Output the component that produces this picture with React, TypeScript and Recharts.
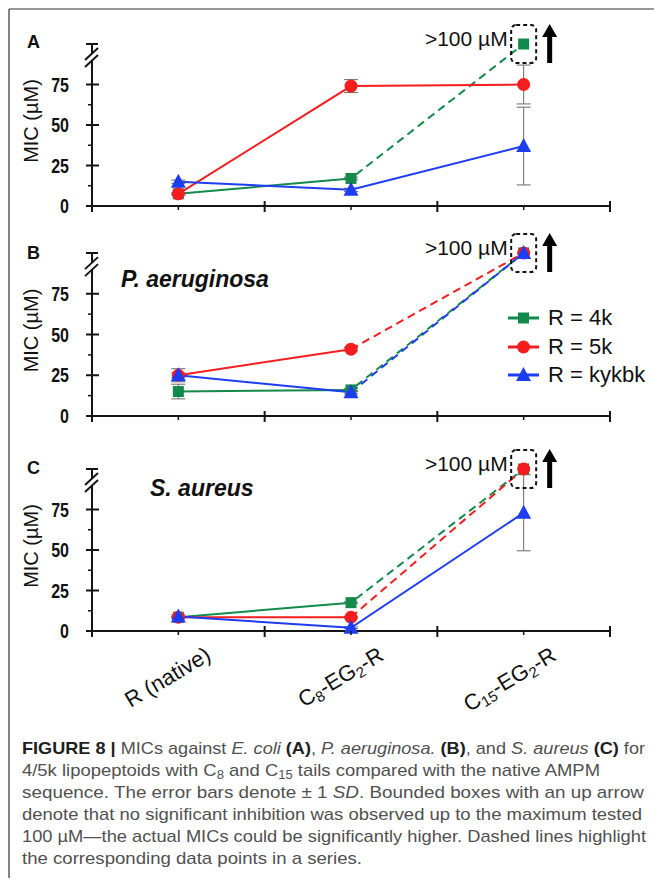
import React from "react";
import { LineChart, Line, XAxis, YAxis, ErrorBar, ReferenceDot, Legend } from "recharts";

// Fonts / colours picked to read like the Excel-style original.
const FONT = "'Liberation Sans', Arial, Helvetica, sans-serif";
const GREEN = "#13894b";
const RED = "#f51d1d";
const BLUE = "#1c3df2";
const AXIS = "#141414";
const ERR = "#6a6a6a";

const categories = ["R (native)", "C_8-EG_2-R", "C_15-EG_2-R"];
const xTicks = [0, 0.5, 1, 1.5, 2, 2.5, 3];
const yTicks = [0, 12.5, 25, 37.5, 50, 62.5, 75, 89.5, 100];
const MAX_TESTED = 100; // values at 100 mean "> 100 µM"

// (A) E. coli
const ecoli4k = [7.5, 17, 100];
const ecoli5k = [7.5, 74, 75];
const ecoliKykbk = [15, 10, 37];
const ecoli4kSd = [0.6, 0.8, 0];
const ecoli5kSd = [0.6, 4, 12];
const ecoliKykbkSd = [1, 1, 24];

// (B) P. aeruginosa
const paer4k = [15, 16, 100];
const paer5k = [25, 41, 100];
const paerKykbk = [25, 14.5, 100];
const paer4kSd = [4.5, 1, 0];
const paer5kSd = [1.5, 1, 0];
const paerKykbkSd = [4, 1, 0];

// (C) S. aureus
const saur4k = [8.5, 17.5, 100];
const saur5k = [8.5, 8.5, 100];
const saurKykbk = [9, 2, 73];
const saur4kSd = [0.5, 0.5, 0];
const saur5kSd = [0.5, 0.5, 0];
const saurKykbkSd = [1, 0.5, 23.5];

type Shape = "square" | "circle" | "triangle";
const series: { key: string; name: string; color: string; shape: Shape }[] = [
  { key: "k4", name: "R = 4k", color: GREEN, shape: "square" },
  { key: "k5", name: "R = 5k", color: RED, shape: "circle" },
  { key: "ky", name: "R = kykbk", color: BLUE, shape: "triangle" },
];

// solid segment for measured values, dashed segment running into a ">100" point
function buildRows(vals: number[][], sds: number[][]) {
  return categories.map((name, i) => {
    const row: any = { x: i + 0.5, name };
    series.forEach((s, j) => {
      const v = vals[j];
      const over = v[2] >= MAX_TESTED;
      const solid = over && i === 2 ? null : v[i];
      row[s.key] = solid;
      row[s.key + "Sd"] = solid == null ? null : sds[j][i];
      row[s.key + "Dash"] = over && i >= 1 ? v[i] : null;
    });
    return row;
  });
}

const rowsA = buildRows([ecoli4k, ecoli5k, ecoliKykbk], [ecoli4kSd, ecoli5kSd, ecoliKykbkSd]);
const rowsB = buildRows([paer4k, paer5k, paerKykbk], [paer4kSd, paer5kSd, paerKykbkSd]);
const rowsC = buildRows([saur4k, saur5k, saurKykbk], [saur4kSd, saur5kSd, saurKykbkSd]);

function Marker({ cx, cy, shape, color }: { cx?: number; cy?: number; shape: Shape; color: string }) {
  if (cx == null || cy == null || Number.isNaN(cx) || Number.isNaN(cy)) return null;
  if (shape === "square") return <rect x={cx - 5.5} y={cy - 5.5} width={11} height={11} fill={color} />;
  if (shape === "circle") return <circle cx={cx} cy={cy} r={6.5} fill={color} />;
  return <path d={`M${cx},${cy - 8} L${cx + 7.5},${cy + 6} L${cx - 7.5},${cy + 6} Z`} fill={color} />;
}

function subParts(label: string, base: number) {
  const bits = label.split(/_(\d+)/);
  return bits.map((b, i) =>
    i % 2 === 1 ? (
      <tspan key={i} dy={4} fontSize={base * 0.68}>
        {b}
      </tspan>
    ) : (
      <tspan key={i} dy={i === 0 ? 0 : -4}>
        {b}
      </tspan>
    )
  );
}

function XTick(props: any) {
  const { x, y, payload, showLabels } = props;
  const v = payload.value as number;
  const boundary = Number.isInteger(v);
  return (
    <g>
      {boundary ? (
        <line x1={x} x2={x} y1={y - 5} y2={y + 6} stroke={AXIS} strokeWidth={2} />
      ) : (
        <line x1={x} x2={x} y1={y} y2={y + 4} stroke={AXIS} strokeWidth={1.5} />
      )}
      {!boundary && showLabels && (
        <text
          transform={`translate(${x + 34},${y + 28}) rotate(-31)`}
          textAnchor="end"
          fontSize={22}
          fontFamily={FONT}
          fill="#111"
        >
          {subParts(categories[Math.floor(v)], 22)}
        </text>
      )}
    </g>
  );
}

function YTick(props: any) {
  const { x, y, payload } = props;
  const v = payload.value as number;
  if (v === MAX_TESTED) {
    return <line x1={x - 6} x2={x + 6} y1={y} y2={y} stroke={AXIS} strokeWidth={2} />;
  }
  if (v % 25 !== 0) {
    if (v === 12.5 || v === 37.5 || v === 62.5) {
      return <line x1={x - 4} x2={x} y1={y} y2={y} stroke={AXIS} strokeWidth={1.5} />;
    }
    // axis break "//"
    return (
      <g>
        <polygon
          points={`${x - 7},${y - 1} ${x + 6},${y - 13} ${x + 6},${y - 6} ${x - 7},${y + 6}`}
          fill="#fff"
        />
        <line x1={x - 7} y1={y - 1} x2={x + 6} y2={y - 13} stroke={AXIS} strokeWidth={2} />
        <line x1={x - 7} y1={y + 6} x2={x + 6} y2={y - 6} stroke={AXIS} strokeWidth={2} />
      </g>
    );
  }
  return (
    <g>
      <line x1={x - 6} x2={x + 7} y1={y} y2={y} stroke={AXIS} strokeWidth={2} />
      {/* condensed bold digits */}
      <text
        transform={`translate(${x - 23},${y + 7}) scale(0.8,1)`}
        textAnchor="end"
        fontSize={20}
        fontWeight="bold"
        fontFamily={FONT}
        fill="#111"
      >
        {v}
      </text>
    </g>
  );
}

function OverMark(props: any) {
  const { cx, cy } = props;
  if (cx == null || cy == null) return null;
  const ax = cx + 26;
  return (
    <g>
      <rect
        x={cx - 12.5}
        y={cy - 19}
        width={25}
        height={38}
        rx={5}
        fill="none"
        stroke="#111"
        strokeWidth={2}
        strokeDasharray="4 3"
      />
      <rect x={ax - 2.5} y={cy - 8} width={5} height={27} fill="#000" />
      <path d={`M${ax - 7.5},${cy - 7} L${ax + 7.5},${cy - 7} L${ax},${cy - 20} Z`} fill="#000" />
      <text x={cx - 16} y={cy + 2} textAnchor="end" fontSize={21} fontFamily={FONT} fill="#111">
        {">100 µM"}
      </text>
    </g>
  );
}

function LegendBox(props: any) {
  const payload = (props.payload || []) as any[];
  return (
    <div style={{ fontFamily: FONT, fontSize: 22, color: "#111" }}>
      {payload.map((p) => {
        const s = series.find((d) => d.key === p.dataKey);
        if (!s) return null;
        return (
          <div key={s.key} style={{ display: "flex", alignItems: "center", height: 28.5 }}>
            <svg width={40} height={20} style={{ marginRight: 2 }}>
              <line x1={2} x2={33} y1={10} y2={10} stroke={s.color} strokeWidth={3} />
              <Marker cx={17.5} cy={10} shape={s.shape} color={s.color} />
            </svg>
            <span>{s.name}</span>
          </div>
        );
      })}
    </div>
  );
}

function YLabel(props: any) {
  const vb = props.viewBox || { y: 0, height: 0 };
  return (
    <text
      transform={`translate(38,${vb.y + vb.height / 2 - 4}) rotate(-90)`}
      textAnchor="middle"
      fontSize={20}
      fontFamily={FONT}
      fill="#111"
    >
      MIC (µM)
    </text>
  );
}

function Panel({
  rows,
  top,
  marginTop,
  plotBottom,
  xAxisHeight,
  showLabels,
  legend,
}: {
  rows: any[];
  top: number;
  marginTop: number;
  plotBottom: number;
  xAxisHeight: number;
  showLabels?: boolean;
  legend?: boolean;
}) {
  return (
    <div style={{ position: "absolute", left: 0, top }}>
      <LineChart
        width={654}
        height={plotBottom + xAxisHeight}
        data={rows}
        margin={{ top: marginTop, right: 44, left: 0, bottom: 0 }}
      >
        <XAxis
          type="number"
          dataKey="x"
          domain={[0, categories.length]}
          ticks={xTicks}
          interval={0}
          height={xAxisHeight}
          tickSize={0}
          tickMargin={0}
          tickLine={false}
          axisLine={{ stroke: AXIS, strokeWidth: 2 }}
          tick={<XTick showLabels={showLabels} />}
        />
        <YAxis
          type="number"
          domain={[0, MAX_TESTED]}
          ticks={yTicks}
          interval={0}
          width={92}
          tickSize={0}
          tickMargin={0}
          tickLine={false}
          axisLine={{ stroke: AXIS, strokeWidth: 2 }}
          tick={<YTick />}
          label={<YLabel />}
        />
        {series.flatMap((s) => [
          <Line
            key={s.key + "Dash"}
            dataKey={s.key + "Dash"}
            stroke={s.color}
            strokeWidth={2}
            strokeDasharray="8 5"
            strokeDashoffset={s.key === "k4" ? 6.5 : 0}
            legendType="none"
            isAnimationActive={false}
            connectNulls={false}
            dot={(p: any) =>
              p.index === 2 ? (
                <Marker key={`${s.key}dd${p.index}`} cx={p.cx} cy={p.cy} shape={s.shape} color={s.color} />
              ) : (
                <g key={`${s.key}dd${p.index}`} />
              )
            }
            activeDot={false}
          />,
          <Line
            key={s.key}
            dataKey={s.key}
            name={s.name}
            stroke={s.color}
            strokeWidth={2}
            isAnimationActive={false}
            connectNulls={false}
            dot={(p: any) => (
              <Marker key={`${s.key}d${p.index}`} cx={p.cx} cy={p.cy} shape={s.shape} color={s.color} />
            )}
            activeDot={false}
          >
            <ErrorBar dataKey={s.key + "Sd"} width={7} stroke={ERR} strokeWidth={1} direction="y" />
          </Line>,
        ])}
        <ReferenceDot
          x={categories.length - 0.5}
          y={MAX_TESTED}
          r={1}
          ifOverflow="visible"
          shape={(p: any) => <OverMark {...p} />}
        />
        {legend && (
          <Legend
            layout="vertical"
            align="center"
            verticalAlign="middle"
            content={<LegendBox />}
            wrapperStyle={{ position: "absolute", left: 506, top: 79, width: 150 }}
          />
        )}
      </LineChart>
    </div>
  );
}

const captionLines: { width: number; parts: [string, "r" | "b" | "i" | "s"][] }[] = [
  {
    width: 623,
    parts: [
      ["FIGURE 8 |", "b"],
      [" MICs against ", "r"],
      ["E. coli", "i"],
      [" ", "r"],
      ["(A)", "b"],
      [", ", "r"],
      ["P. aeruginosa.", "i"],
      [" ", "r"],
      ["(B)", "b"],
      [", and ", "r"],
      ["S. aureus", "i"],
      [" ", "r"],
      ["(C)", "b"],
      [" for", "r"],
    ],
  },
  {
    width: 578,
    parts: [
      ["4/5k lipopeptoids with C", "r"],
      ["8", "s"],
      [" and C", "r"],
      ["15", "s"],
      [" tails compared with the native AMPM", "r"],
    ],
  },
  {
    width: 622,
    parts: [
      ["sequence. The error bars denote ± 1 ", "r"],
      ["SD", "i"],
      [". Bounded boxes with an up arrow", "r"],
    ],
  },
  { width: 620, parts: [["denote that no significant inhibition was observed up to the maximum tested", "r"]] },
  { width: 624, parts: [["100 µM—the actual MICs could be significantly higher. Dashed lines highlight", "r"]] },
  { width: 340, parts: [["the corresponding data points in a series.", "r"]] },
];

function Caption() {
  return (
    <g fontFamily={FONT} fontSize={17} fill="#505050">
      {captionLines.map((line, li) => (
        <text key={li} x={22} y={754 + li * 22} textLength={line.width} lengthAdjust="spacingAndGlyphs">
          {line.parts.map(([t, k], i) => {
            if (k === "b")
              return (
                <tspan key={i} fontWeight="bold" fill="#1e1e1e">
                  {t}
                </tspan>
              );
            if (k === "i")
              return (
                <tspan key={i} fontStyle="italic">
                  {t}
                </tspan>
              );
            if (k === "s")
              return (
                <tspan key={i} fontSize={12} baselineShift="-25%">
                  {t}
                </tspan>
              );
            return <tspan key={i}>{t}</tspan>;
          })}
        </text>
      ))}
    </g>
  );
}

export default function App() {
  return (
    <div style={{ position: "absolute", left: 0, top: 0, width: 654, height: 891, background: "#fff" }}>
      <Panel rows={rowsA} top={0} marginTop={44} plotBottom={206} xAxisHeight={20} />
      <Panel rows={rowsB} top={225} marginTop={28} plotBottom={191} xAxisHeight={20} legend />
      <Panel rows={rowsC} top={440} marginTop={29} plotBottom={191} xAxisHeight={90} showLabels />
      <svg
        width={654}
        height={891}
        style={{ position: "absolute", left: 0, top: 0, pointerEvents: "none" }}
      >
        <line x1={9} y1={9} x2={654} y2={9} stroke="#333" strokeWidth={1.2} />
        <line x1={9} y1={9} x2={9} y2={878} stroke="#333" strokeWidth={1.2} />
        <g fontFamily={FONT} fontWeight="bold" fill="#111" fontSize={18}>
          <text x={27} y={48}>A</text>
          <text x={27} y={259}>B</text>
          <text x={27} y={474}>C</text>
        </g>
        <g fontFamily={FONT} fontWeight="bold" fontStyle="italic" fill="#111" fontSize={23}>
          <text x={121} y={287}>P. aeruginosa</text>
          <text x={150} y={496}>S. aureus</text>
        </g>
        <Caption />
      </svg>
    </div>
  );
}
